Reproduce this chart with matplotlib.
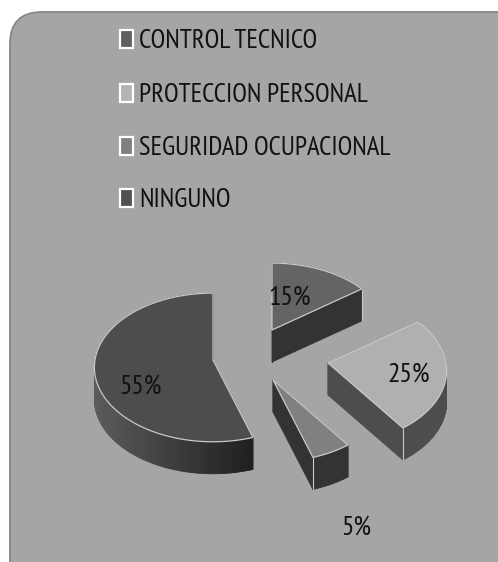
import numpy as np
import matplotlib
matplotlib.use("Agg")
import matplotlib.pyplot as plt
from matplotlib.patches import FancyBboxPatch, Polygon, Rectangle

categories = ["CONTROL TECNICO", "PROTECCION PERSONAL", "SEGURIDAD OCUPACIONAL", "NINGUNO"]
percentages = [15, 25, 5, 55]
top_colors = ["#646464", "#b0b0b0", "#808080", "#4d4d4d"]
legend_colors = ["#606060", "#b4b4b4", "#808080", "#505050"]
wall_colors = ["#333333", "#4d4d4d", "#333333", None]
apexes = [(272, 330), (328, 363), (273, 380), (213, 360)]
label_positions = [(290, 298), (409, 375), (356, 528), (140, 387)]
legend_text_y = [41, 95, 148, 200]
legend_box_y = [39, 93, 146, 198]

RADIUS = 118
SQUASH = 0.63
PERSPECTIVE = 0.1
DEPTH = 32
FONT = ["PT Sans Narrow", "Archivo Narrow", "Roboto Condensed", "Liberation Sans", "DejaVu Sans"]
EDGE = "#c9c9c9"

plt.rcParams["font.family"] = FONT

fig = plt.figure(figsize=(4.98, 5.62), dpi=100, facecolor="white")
ax = fig.add_axes([0, 0, 1, 1])
ax.set_xlim(0, 498)
ax.set_ylim(562, 0)
ax.axis("off")

ax.add_patch(FancyBboxPatch((40, 42), 462, 600,
                            boxstyle="round,pad=30,rounding_size=32",
                            facecolor="#a5a5a5", edgecolor="#8a8a8a", linewidth=1.4))


def rim(apex, theta):
    """Screen position of a point on the pie's rim, with mild perspective."""
    scale = RADIUS * (1 - PERSPECTIVE * np.cos(theta))
    return apex[0] + scale * np.sin(theta), apex[1] - SQUASH * scale * np.cos(theta)


def wall(a, b, color, edge=None, lw=0.6):
    return dict(points=[a, b, (b[0], b[1] + DEPTH), (a[0], a[1] + DEPTH)],
                color=color, edge=edge or color, lw=lw)


def gradient_shade(x):
    """Darkens the largest slice's wall from left to right."""
    t = np.clip((x - 95) / 152, 0, 1)
    v = 0.36 - 0.23 * t
    return (v, v, v)


start = 0.0
walls, faces = [], []
for pct, apex, top, side in zip(percentages, apexes, top_colors, wall_colors):
    end = start + pct / 100 * 2 * np.pi
    thetas = np.linspace(start, end, max(pct * 3, 12))
    arc = [rim(apex, t) for t in thetas]
    for a, b in zip(arc[:-1], arc[1:]):
        walls.append(wall(a, b, side or gradient_shade(a[0])))
    walls.append(wall(apex, arc[0], side or "#3c3c3c"))
    walls.append(wall(apex, arc[-1], side or "#3c3c3c"))
    faces.append(([apex] + arc, top))
    # vertical highlights where the near walls meet
    if pct != 55 and np.cos(end) < 0.7:
        walls.append(dict(points=[arc[-1], (arc[-1][0], arc[-1][1] + DEPTH)],
                          color="none", edge=EDGE, lw=0.8, z=True))
    start = end

for w in sorted(walls, key=lambda w: (w.get("z", False), np.mean([p[1] for p in w["points"]]))):
    ax.add_patch(Polygon(w["points"], closed=True, facecolor=w["color"],
                         edgecolor=w["edge"], linewidth=w["lw"], zorder=3))

for outline, color in faces:
    ax.add_patch(Polygon(outline, closed=True, facecolor=color,
                         edgecolor=EDGE, linewidth=0.9, zorder=4))

for pct, (x, y) in zip(percentages, label_positions):
    ax.text(x, y, f"{pct}%", ha="center", va="center", fontsize=20,
            color="#111111", zorder=5)

for name, color, box_y, text_y in zip(categories, legend_colors, legend_box_y, legend_text_y):
    ax.add_patch(Rectangle((120, box_y - 9), 13, 18, facecolor=color,
                           edgecolor="white", linewidth=1.6, zorder=5))
    ax.text(139, text_y, name, ha="left", va="center", fontsize=19.3,
            color="#111111", zorder=5)

fig.savefig("out.png", dpi=100)
